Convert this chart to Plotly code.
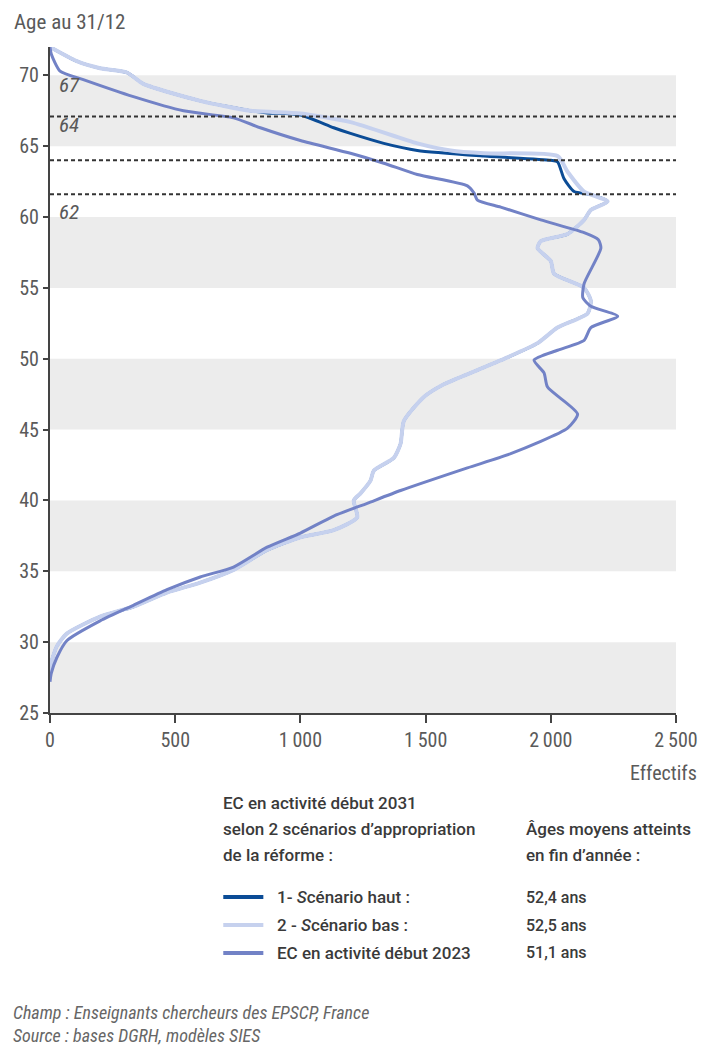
import plotly.graph_objects as go

# ---------------- data ----------------
age_2023 = [72.0, 71.5, 70.3, 69.7, 68.5, 67.5, 67.0, 66.3, 65.4, 64.5, 63.8, 63.0, 62.2, 61.7,
            61.2, 60.7, 59.8, 58.9, 58.4, 57.8, 55.3, 54.3, 53.7, 53.0, 52.2, 51.3, 50.6, 49.9,
            49.0, 48.0, 46.1, 45.1, 43.3, 42.3, 40.7, 39.8, 38.9, 37.7, 36.7, 35.3, 34.6, 33.7,
            32.6, 31.5, 30.1, 28.9, 27.8, 27.2]
eff_2023 = [0, 5, 40, 133, 333, 533, 733, 840, 1000, 1200, 1333, 1467, 1667, 1693,
            1707, 1800, 1960, 2133, 2190, 2200, 2133, 2128, 2160, 2267, 2160, 2133, 2027, 1933,
            1973, 1987, 2107, 2067, 1840, 1667, 1400, 1267, 1133, 1000, 867, 733, 600, 467,
            333, 200, 67, 27, 5, 0]

age_bas = [72.0, 71.0, 70.5, 70.2, 69.4, 68.2, 67.5, 67.3, 66.7, 65.2, 64.7, 64.5, 64.3, 63.2,
           61.8, 61.1, 60.5, 59.8, 58.8, 58.3, 57.8, 56.9, 56.0, 55.0, 54.1, 53.2, 52.2, 51.1,
           50.1, 49.2, 48.2, 47.3, 45.6, 44.0, 43.0, 42.1, 41.4, 40.5, 40.0, 38.8, 37.9, 37.4,
           36.5, 35.1, 34.2, 33.5, 32.5, 31.8, 30.6, 29.7, 28.2, 27.5]
eff_bas = [0, 107, 200, 307, 373, 600, 800, 1000, 1200, 1467, 1600, 1733, 2027, 2067,
           2133, 2227, 2160, 2133, 2067, 1960, 1947, 2000, 2013, 2133, 2160, 2147, 2027, 1947,
           1827, 1707, 1573, 1493, 1413, 1400, 1373, 1293, 1280, 1240, 1213, 1227, 1133, 1000,
           867, 733, 600, 467, 333, 200, 67, 27, 0, 0]

age_haut = [72.0, 71.0, 70.5, 70.2, 69.4, 68.2, 67.5, 67.35, 67.2, 66.3, 65.9, 65.2, 64.7, 64.3,
            64.0, 63.9, 62.7, 61.8, 61.6, 61.1, 60.5, 59.8, 58.8, 58.3, 57.8, 56.9, 56.0, 55.0,
            54.1, 53.2, 52.2, 51.1, 50.1, 49.2, 48.2, 47.3, 45.6, 44.0, 43.0, 42.1, 41.4, 40.5,
            40.0, 38.8, 37.9, 37.4, 36.5, 35.1, 34.2, 33.5, 32.5, 31.8, 30.6, 29.7, 28.2, 27.5]
eff_haut = [0, 107, 200, 307, 373, 600, 800, 867, 1000, 1133, 1200, 1333, 1467, 1733,
            2000, 2027, 2053, 2093, 2160, 2227, 2160, 2133, 2067, 1960, 1947, 2000, 2013, 2133,
            2160, 2147, 2027, 1947, 1827, 1707, 1573, 1493, 1413, 1400, 1373, 1293, 1280, 1240,
            1213, 1227, 1133, 1000, 867, 733, 600, 467, 333, 200, 67, 27, 0, 0]

ref_ages = [67.1, 64.0, 61.6]
ref_labels = ["67", "64", "62"]
ref_label_pos = [69.3, 66.5, 60.35]

band_starts = [25, 35, 45, 55, 65]
y_ticks = [25, 30, 35, 40, 45, 50, 55, 60, 65, 70]
x_ticks = [0, 500, 1000, 1500, 2000, 2500]
x_ticktext = ["0", "500", "1\u2009000", "1\u2009500", "2\u2009000", "2\u2009500"]

legend_names = ["1- <i>S</i>cénario haut :", "2 - <i>S</i>cénario bas :", "EC en activité début 2023"]
legend_ages = ["52,4 ans", "52,5 ans", "51,1 ans"]

C_HAUT = "#0b4c96"
C_BAS = "#c6d1ee"
C_2023 = "#7282c6"
FONT = "Liberation Sans Narrow, Roboto Condensed, DejaVu Sans Condensed, Roboto, sans-serif"
LFONT = "Roboto, Open Sans, sans-serif"
TXT = "#3a3a3a"
GREY = "#5a5a5a"

fig = go.Figure()
fig.add_trace(go.Scatter(x=eff_haut, y=age_haut, mode="lines", line=dict(color=C_HAUT, width=3, shape="spline", smoothing=0.6), showlegend=False))
fig.add_trace(go.Scatter(x=eff_bas, y=age_bas, mode="lines", line=dict(color=C_BAS, width=4, shape="spline", smoothing=0.6), showlegend=False))
fig.add_trace(go.Scatter(x=eff_2023, y=age_2023, mode="lines", line=dict(color=C_2023, width=3, shape="spline", smoothing=0.6), showlegend=False))

shapes = []
for b in band_starts:
    shapes.append(dict(type="rect", xref="x", yref="y", x0=0, x1=2500, y0=b, y1=b + 5,
                       fillcolor="#ececec", line=dict(width=0), layer="below"))
for a in ref_ages:
    shapes.append(dict(type="line", xref="x", yref="y", x0=0, x1=2500, y0=a, y1=a,
                       line=dict(color="#333333", width=2, dash="4px,3px")))

annotations = []
for lab, pos in zip(ref_labels, ref_label_pos):
    annotations.append(dict(x=28, y=pos, xref="x", yref="y", text=f"<i>{lab}</i>", showarrow=False,
                            xanchor="left", yanchor="middle", font=dict(family=FONT, size=21, color=GREY)))

# pixel helpers for layout (plot area 50..675 x, 47..713 y)
def px(p):
    return (p - 50) / 625.0

def py(p):
    return (713 - p) / 666.0

annotations.append(dict(x=px(12), y=py(22), xref="paper", yref="paper", text="Age au 31/12", showarrow=False,
                        xanchor="left", yanchor="middle", font=dict(family=FONT, size=21, color=GREY)))
annotations.append(dict(x=px(698), y=py(773), xref="paper", yref="paper", text="Effectifs", showarrow=False,
                        xanchor="right", yanchor="middle", font=dict(family=FONT, size=20, color=GREY)))

header = ["EC en activité début 2031", "selon 2 scénarios d\u2019appropriation", "de la réforme :"]
for i, h in enumerate(header):
    annotations.append(dict(x=px(221), y=py(803 + 26 * i), xref="paper", yref="paper", text=h, showarrow=False,
                            xanchor="left", yanchor="middle",
                            font=dict(family=LFONT, size=17, color=TXT, weight=500)))
for i, h in enumerate(["Âges moyens atteints", "en fin d\u2019année :"]):
    annotations.append(dict(x=px(523), y=py(829 + 26 * i), xref="paper", yref="paper", text=h, showarrow=False,
                            xanchor="left", yanchor="middle",
                            font=dict(family=LFONT, size=17, color=TXT, weight=500)))

leg_colors = [C_HAUT, C_BAS, C_2023]
for i, (name, val, col) in enumerate(zip(legend_names, legend_ages, leg_colors)):
    yy = py(897 + 28 * i)
    shapes.append(dict(type="line", xref="paper", yref="paper", x0=px(223), x1=px(263), y0=yy, y1=yy,
                       line=dict(color=col, width=4)))
    annotations.append(dict(x=px(275), y=yy, xref="paper", yref="paper", text=name, showarrow=False,
                            xanchor="left", yanchor="middle",
                            font=dict(family=LFONT, size=17, color=TXT, weight=500)))
    annotations.append(dict(x=px(523), y=yy, xref="paper", yref="paper", text=val, showarrow=False,
                            xanchor="left", yanchor="middle",
                            font=dict(family=LFONT, size=16, color=TXT, weight=500)))

for i, t in enumerate(["Champ : Enseignants chercheurs des EPSCP, France", "Source : bases DGRH, modèles SIES"]):
    annotations.append(dict(x=px(11), y=py(1012 + 23 * i), xref="paper", yref="paper", text=f"<i>{t}</i>",
                            showarrow=False, xanchor="left", yanchor="middle",
                            font=dict(family=FONT, size=18, color="#666666")))

fig.update_layout(
    width=701, height=1046,
    margin=dict(l=50, r=25, t=47, b=333, autoexpand=False),
    paper_bgcolor="white", plot_bgcolor="white",
    shapes=shapes, annotations=annotations,
    showlegend=False,
    xaxis=dict(range=[0, 2500], tickvals=x_ticks, ticktext=x_ticktext, showgrid=False, zeroline=False,
               showline=True, linecolor="#444444", linewidth=2, ticks="outside", ticklen=8, tickwidth=2,
               tickcolor="#444444", tickfont=dict(family=FONT, size=20, color=GREY), fixedrange=True,
               automargin=False),
    yaxis=dict(range=[25, 72], tickvals=y_ticks, showgrid=False, zeroline=False,
               showline=True, linecolor="#444444", linewidth=2, ticks="outside", ticklen=5, tickwidth=1.5,
               tickcolor="#444444", tickfont=dict(family=FONT, size=20, color=GREY), fixedrange=True,
               automargin=False),
)

fig.write_html("out.html")
